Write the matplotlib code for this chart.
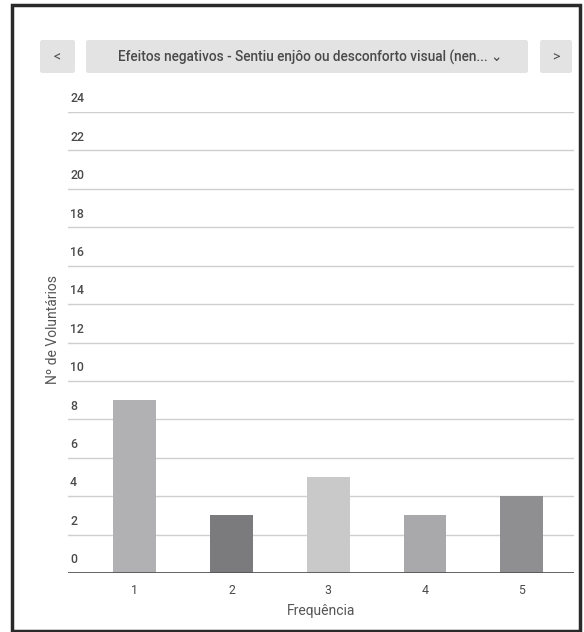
import matplotlib
matplotlib.use('Agg')
import matplotlib.pyplot as plt
from matplotlib.patches import FancyBboxPatch, Rectangle
from matplotlib.transforms import blended_transform_factory

plt.rcParams['font.family'] = ['Roboto', 'DejaVu Sans']

# data
categorias = ['1', '2', '3', '4', '5']
voluntarios = [9, 3, 5, 3, 4]
cores = ['#b1b1b3', '#7b7b7d', '#c9c9c9', '#a9a9ab', '#8f8f91']
yticks = [0, 2, 4, 6, 8, 10, 12, 14, 16, 18, 20, 22, 24]
titulo = 'Efeitos negativos - Sentiu enjôo ou desconforto visual (nen... \u2304'

W, H = 584, 632
fig = plt.figure(figsize=(W / 100, H / 100), dpi=100)
fig.patch.set_facecolor('white')

def fx(px):
    return px / W

def fy(py):
    return 1 - py / H

# outer frame
fig.patches.append(Rectangle((fx(12), fy(631)), fx(568), 626 / H, transform=fig.transFigure,
                             fill=False, edgecolor='#2a2a2a', linewidth=2.5))

# header buttons
for x0, x1 in [(40, 75), (86, 528), (540, 572)]:
    fig.patches.append(FancyBboxPatch((fx(x0), fy(73)), fx(x1 - x0), 33 / H,
                                      boxstyle='round,pad=0,rounding_size=0.004',
                                      transform=fig.transFigure, facecolor='#e3e3e4',
                                      edgecolor='none'))
fig.text(fx(57.5), fy(57), '<', ha='center', va='center', fontsize=10, color='#555555')
fig.text(fx(556), fy(57), '>', ha='center', va='center', fontsize=10, color='#555555')
fig.text(fx(310), fy(57), titulo, ha='center', va='center', fontsize=9.8,
         color='#4a4a4a', weight='medium')

ax = fig.add_axes([fx(68), 59 / H, fx(574 - 68), (573 - 112) / H])
x = list(range(1, len(categorias) + 1))
ax.bar(x, voluntarios, width=0.44, color=cores, zorder=3)
ax.set_xlim(0.31, 5.54)
ax.set_ylim(0, 24)

for s in ax.spines.values():
    s.set_visible(False)
ax.set_yticks(yticks)
ax.yaxis.grid(True, color='#cfcfcf', linewidth=1)
ax.axhline(0, color='#555555', linewidth=2, zorder=4)
ax.tick_params(axis='y', length=0, labelleft=False)
trans = blended_transform_factory(ax.transAxes, ax.transData)
for v in yticks:
    ax.text(0.004, v + 0.35, str(v), transform=trans, ha='left', va='bottom',
            fontsize=8.8, color='#4a4a4a', weight='medium')

ax.set_xticks(x)
ax.set_xticklabels(categorias, fontsize=8.8, color='#4a4a4a')
ax.tick_params(axis='x', length=0, pad=8)
ax.set_xlabel('Frequência', fontsize=10, color='#555555', labelpad=5)
fig.text(fx(53), fy(330), 'Nº de Voluntários', rotation=90, ha='center', va='center',
         fontsize=10, color='#555555')

fig.savefig('out.png', dpi=100)
